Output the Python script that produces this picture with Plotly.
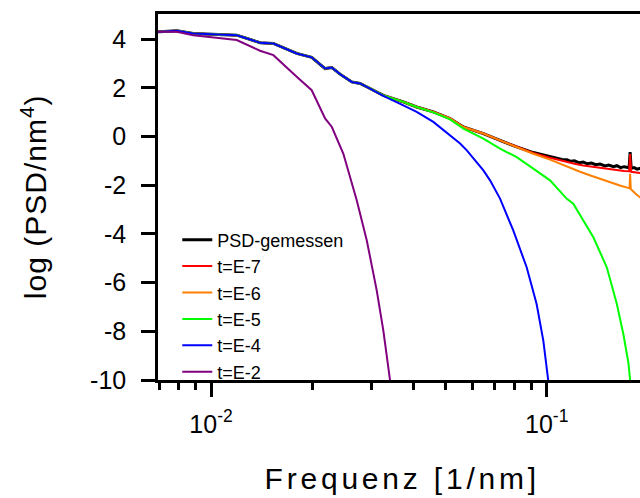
import plotly.graph_objects as go

# ---------------- data ----------------
f_gemessen = [0.00695, 0.00702, 0.00791, 0.00885, 0.01193, 0.01400, 0.01534, 0.01800, 0.01995,
              0.02187, 0.02291, 0.02423, 0.02626, 0.02780, 0.02976, 0.03262, 0.03740, 0.04099,
              0.04594, 0.05152, 0.05648, 0.06476, 0.07261, 0.08140, 0.09120, 0.1023, 0.1050,
              0.1080, 0.1110, 0.1148, 0.1180, 0.1210, 0.1250, 0.1285, 0.1320, 0.1360, 0.1400,
              0.1442, 0.1490, 0.1530, 0.1580, 0.1618, 0.1660, 0.1700, 0.1760, 0.1772, 0.1785,
              0.1820, 0.1860, 0.1897, 0.2000]
psd_gemessen = [4.30, 4.30, 4.34, 4.23, 4.16, 3.85, 3.82, 3.41, 3.25,
                2.79, 2.83, 2.56, 2.24, 2.18, 1.97, 1.69, 1.42, 1.21,
                1.01, 0.74, 0.39, 0.12, -0.16, -0.43, -0.66, -0.81, -0.87,
                -0.88, -0.94, -0.95, -1.02, -1.00, -1.08, -1.05, -1.12, -1.09, -1.16,
                -1.13, -1.21, -1.17, -1.24, -1.20, -1.28, -1.24, -1.28, -0.64, -1.31,
                -1.28, -1.34, -1.31, -1.38]

f_e7 = [0.00695, 0.00702, 0.00791, 0.00885, 0.01193, 0.01400, 0.01534, 0.01800, 0.01995,
        0.02187, 0.02291, 0.02423, 0.02626, 0.02780, 0.02976, 0.03262, 0.03740, 0.04099,
        0.04594, 0.05152, 0.05648, 0.06476, 0.07261, 0.08140, 0.09120, 0.1023, 0.1080,
        0.1148, 0.1210, 0.1285, 0.1360, 0.1442, 0.1530, 0.1618, 0.1700, 0.1760, 0.1772,
        0.1785, 0.1840, 0.1897, 0.2000]
t_e7 = [4.30, 4.30, 4.34, 4.23, 4.16, 3.85, 3.82, 3.41, 3.25,
        2.79, 2.83, 2.56, 2.24, 2.18, 1.97, 1.69, 1.42, 1.21,
        1.01, 0.74, 0.39, 0.12, -0.16, -0.43, -0.68, -0.87, -0.96,
        -1.06, -1.12, -1.19, -1.24, -1.30, -1.34, -1.38, -1.42, -1.43, -0.72,
        -1.45, -1.46, -1.50, -1.53]

f_e6 = [0.00695, 0.00702, 0.00791, 0.00885, 0.01193, 0.01400, 0.01534, 0.01800, 0.01995,
        0.02187, 0.02291, 0.02423, 0.02626, 0.02780, 0.02976, 0.03262, 0.03740, 0.04099,
        0.04594, 0.05152, 0.05648, 0.06476, 0.07261, 0.08140, 0.09120, 0.1023, 0.1095,
        0.1180, 0.1257, 0.1350, 0.1442, 0.1550, 0.1652, 0.1747, 0.1765, 0.1772, 0.1780,
        0.1840, 0.1897, 0.2000]
t_e6 = [4.30, 4.30, 4.34, 4.23, 4.16, 3.85, 3.82, 3.41, 3.25,
        2.79, 2.83, 2.56, 2.24, 2.18, 1.97, 1.69, 1.42, 1.21,
        1.01, 0.74, 0.39, 0.12, -0.16, -0.44, -0.71, -0.95, -1.12,
        -1.29, -1.45, -1.60, -1.74, -1.88, -2.01, -2.11, -2.13, -1.53, -2.16,
        -2.35, -2.49, -2.75]

f_e5 = [0.00695, 0.00702, 0.00791, 0.00885, 0.01193, 0.01400, 0.01534, 0.01800, 0.01995,
        0.02187, 0.02291, 0.02423, 0.02626, 0.02780, 0.02976, 0.03262, 0.03740, 0.04099,
        0.04594, 0.05152, 0.05648, 0.06476, 0.07261, 0.08140, 0.09120, 0.1023, 0.1148,
        0.1200, 0.1377, 0.1510, 0.1618, 0.1692, 0.1751, 0.1772, 0.1790]
t_e5 = [4.30, 4.30, 4.34, 4.23, 4.16, 3.85, 3.82, 3.41, 3.25,
        2.79, 2.83, 2.56, 2.24, 2.18, 1.97, 1.69, 1.42, 1.21,
        0.99, 0.70, 0.32, -0.09, -0.50, -0.85, -1.32, -1.80, -2.56,
        -2.76, -4.14, -5.37, -6.88, -8.12, -9.29, -10.04, -10.6]

f_e4 = [0.00695, 0.00702, 0.00791, 0.00885, 0.01193, 0.01400, 0.01534, 0.01800, 0.01995,
        0.02187, 0.02291, 0.02423, 0.02626, 0.02780, 0.02976, 0.03262, 0.03740, 0.04099,
        0.04594, 0.05152, 0.05521, 0.05781, 0.06476, 0.06780, 0.07261, 0.07950, 0.08715,
        0.09331, 0.09772, 0.1011, 0.1025]
t_e4 = [4.30, 4.30, 4.34, 4.23, 4.16, 3.85, 3.82, 3.41, 3.25,
        2.79, 2.83, 2.56, 2.24, 2.18, 1.97, 1.67, 1.28, 1.01,
        0.60, 0.05, -0.29, -0.57, -1.39, -1.80, -2.55, -3.86, -5.37,
        -6.88, -8.39, -10.04, -10.6]

f_e2 = [0.00695, 0.00702, 0.00791, 0.00885, 0.01193, 0.01400, 0.01534, 0.01800, 0.01995,
        0.02187, 0.02291, 0.02479, 0.02718, 0.02911, 0.03117, 0.03262, 0.03415, 0.03460]
t_e2 = [4.30, 4.30, 4.30, 4.16, 3.96, 3.52, 3.34, 2.45, 1.90,
        0.74, 0.39, -0.71, -2.63, -4.27, -6.33, -7.98, -10.04, -10.6]

series_names = ["PSD-gemessen", "t=E-7", "t=E-6", "t=E-5", "t=E-4", "t=E-2"]
series_x = [f_gemessen, f_e7, f_e6, f_e5, f_e4, f_e2]
series_y = [psd_gemessen, t_e7, t_e6, t_e5, t_e4, t_e2]
series_colors = ["#000000", "#ff0000", "#ff8000", "#00ff00", "#0000ff", "#800080"]
series_widths = [3, 2, 2, 2, 2, 2]

y_tickvals = [-10, -8, -6, -4, -2, 0, 2, 4]
y_ticktext = ["-10", "-8", "-6", "-4", "-2", "0", "2", "4"]
x_tickvals = [0.01, 0.1]
x_ticktext = ["10<sup>-2</sup>", "10<sup>-1</sup>"]
x_minorvals = [0.007, 0.008, 0.009, 0.02, 0.03, 0.04, 0.05, 0.06, 0.07, 0.08, 0.09, 0.2]

x_title = "Frequenz [1/nm]"
y_title = "log (PSD/nm<sup>4</sup>)"

FONT = "Liberation Sans, Arial, sans-serif"

fig = go.Figure()
for name, xs, ys, c, w in zip(series_names, series_x, series_y, series_colors, series_widths):
    fig.add_trace(go.Scatter(x=xs, y=ys, mode="lines", name=name,
                             line=dict(color=c, width=w)))

fig.update_layout(
    width=640, height=498,
    margin=dict(l=158, r=0, t=14, b=118),
    paper_bgcolor="white", plot_bgcolor="white",
    font=dict(family=FONT, color="black"),
    showlegend=True,
    legend=dict(x=0.04, y=0.433, xanchor="left", yanchor="top",
                bgcolor="rgba(0,0,0,0)", borderwidth=0,
                font=dict(family=FONT, size=18, color="black"),
                tracegroupgap=0),
    annotations=[
        dict(text=x_title, xref="paper", yref="paper", x=0.507, y=-0.268,
             xanchor="center", yanchor="middle", showarrow=False,
             font=dict(family=FONT, size=30, color="black")),
        dict(text=y_title, xref="paper", yref="paper", x=-0.258, y=0.5,
             xanchor="center", yanchor="middle", showarrow=False, textangle=-90,
             font=dict(family=FONT, size=30, color="black")),
    ],
)

fig.update_xaxes(
    type="log", range=[-2.1579, -0.7221],
    showline=True, linecolor="black", linewidth=2.5, mirror=True,
    showgrid=False, zeroline=False,
    ticks="outside", ticklen=14, tickwidth=2.5, tickcolor="black",
    tickvals=x_tickvals, ticktext=x_ticktext,
    tickfont=dict(family=FONT, size=25, color="black"),
    ticklabelstandoff=6,
    minor=dict(tickvals=x_minorvals, ticks="outside", ticklen=7,
               tickwidth=2.5, tickcolor="black", showgrid=False),
)
fig.update_yaxes(
    range=[-10, 5.03],
    showline=True, linecolor="black", linewidth=2.5, mirror=False,
    showgrid=False, zeroline=False,
    ticks="outside", ticklen=14, tickwidth=2.5, tickcolor="black",
    tickvals=y_tickvals, ticktext=y_ticktext,
    tickfont=dict(family=FONT, size=25, color="black"),
    ticklabelstandoff=10,
)

post = """
var gd = document.getElementById('{plot_id}');
var a0 = gd.querySelector('.annotation[data-index="0"] text');
if (a0) a0.style.letterSpacing = '3.8px';
var a1 = gd.querySelector('.annotation[data-index="1"] text');
if (a1) a1.style.letterSpacing = '1px';
"""

fig.write_html("out.html", config={"displayModeBar": False}, post_script=post)
